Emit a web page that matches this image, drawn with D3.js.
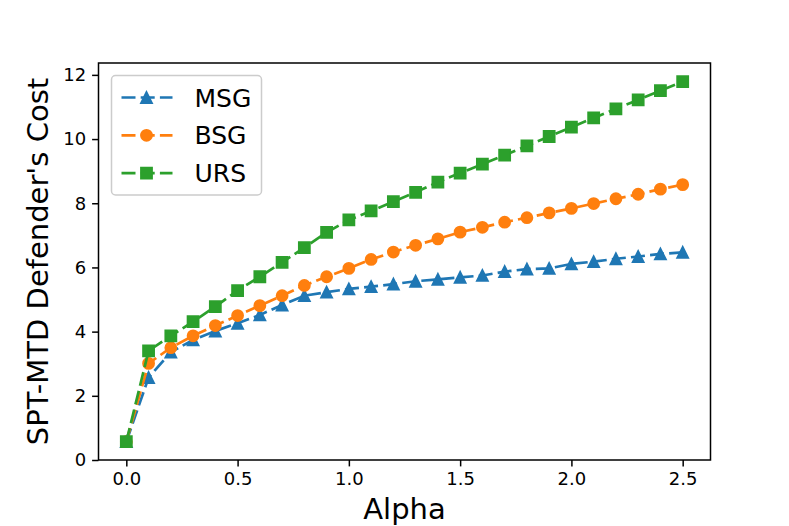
<!DOCTYPE html>
<html>
<head>
<meta charset="utf-8">
<script src="https://cdn.jsdelivr.net/npm/d3@7/dist/d3.min.js"></script>
<style>
	body { margin: 0; background: #fff; }
	svg { display: block; font-family: 'DejaVu Sans', sans-serif; }
</style>
</head>
<body>
<script>
// values
var alpha = [0.0, 0.1, 0.2, 0.3, 0.4, 0.5, 0.6, 0.7, 0.8, 0.9, 1.0, 1.1, 1.2,
	1.3, 1.4, 1.5, 1.6, 1.7, 1.8, 1.9, 2.0, 2.1, 2.2, 2.3, 2.4, 2.5];
var msg = [0.57, 2.57, 3.36, 3.74, 4.02, 4.26, 4.52, 4.83, 5.12, 5.23, 5.33, 5.40, 5.48,
	5.57, 5.63, 5.69, 5.75, 5.87, 5.95, 5.97, 6.11, 6.18, 6.27, 6.34, 6.42, 6.47];
var bsg = [0.57, 3.01, 3.50, 3.87, 4.19, 4.50, 4.81, 5.12, 5.44, 5.71, 5.97, 6.25, 6.48,
	6.69, 6.89, 7.10, 7.25, 7.41, 7.55, 7.70, 7.84, 7.99, 8.14, 8.28, 8.44, 8.58];
var urs = [0.57, 3.40, 3.87, 4.31, 4.78, 5.28, 5.71, 6.16, 6.62, 7.09, 7.48, 7.76, 8.05,
	8.34, 8.66, 8.94, 9.22, 9.50, 9.79, 10.08, 10.37, 10.66, 10.94, 11.22, 11.51, 11.79];
var xTicks = [0, 0.5, 1.0, 1.5, 2.0, 2.5];
var yTicks = [0, 2, 4, 6, 8, 10, 12];
var seriesNames = ['MSG', 'BSG', 'URS'];

var W = 789, H = 526;
var pLeft = 98.5, pRight = 710.5, pTop = 63, pBottom = 460;
var ms = 11; // marker size in px
var dash = '14,5.2';

var svg = d3.select('body').append('svg')
	.attr('width', W)
	.attr('height', H);

var x = d3.scaleLinear().domain([-0.125, 2.625]).range([pLeft, pRight]);
var y = d3.scaleLinear().domain([0, 12.37]).range([pBottom, pTop]);

// matplotlib-like marker shapes, m = marker size
function triangle(m) {
	var h = m / 2;
	return 'M0,' + (-h) + 'L' + (-h) + ',' + h + 'L' + h + ',' + h + 'Z';
}
function circle(m) {
	var p = d3.path();
	p.arc(0, 0, m / 2, 0, 2 * Math.PI);
	return p.toString();
}
function square(m) {
	var h = m / 2;
	return 'M' + (-h) + ',' + (-h) + 'H' + h + 'V' + h + 'H' + (-h) + 'Z';
}

var series = [
	{ name: seriesNames[0], values: msg, color: '#1f77b4', shape: triangle },
	{ name: seriesNames[1], values: bsg, color: '#ff7f0e', shape: circle },
	{ name: seriesNames[2], values: urs, color: '#2ca02c', shape: square }
];

var line = d3.line()
	.x(function(d) { return x(d[0]); })
	.y(function(d) { return y(d[1]); });

var plot = svg.append('g');

series.forEach(function(s) {
	var pts = alpha.map(function(a, i) { return [a, s.values[i]]; });
	plot.append('path')
		.attr('d', line(pts))
		.attr('fill', 'none')
		.attr('stroke', s.color)
		.attr('stroke-width', 2.7)
		.attr('stroke-dasharray', dash);
	plot.selectAll(null)
		.data(pts)
		.enter().append('path')
		.attr('transform', function(d) { return 'translate(' + x(d[0]) + ',' + y(d[1]) + ')'; })
		.attr('d', s.shape(ms))
		.attr('fill', s.color)
		.attr('stroke', s.color)
		.attr('stroke-width', 1.8)
		.attr('stroke-linejoin', 'miter');
});

// axes
var xAxis = svg.append('g')
	.attr('transform', 'translate(0,' + pBottom + ')')
	.call(d3.axisBottom(x).tickValues(xTicks).tickFormat(d3.format('.1f')).tickSizeOuter(0).tickSize(6.4).tickPadding(6));
var yAxis = svg.append('g')
	.attr('transform', 'translate(' + pLeft + ',0)')
	.call(d3.axisLeft(y).tickValues(yTicks).tickFormat(d3.format('d')).tickSizeOuter(0).tickSize(6.4).tickPadding(6));

[xAxis, yAxis].forEach(function(a) {
	a.select('.domain').remove();
	a.selectAll('.tick line').attr('stroke', '#000').attr('stroke-width', 1.5);
	a.selectAll('.tick text')
		.attr('fill', '#000')
		.style('font-size', '18px')
		.style('font-family', 'DejaVu Sans');
});

svg.append('rect')
	.attr('x', pLeft)
	.attr('y', pTop)
	.attr('width', pRight - pLeft)
	.attr('height', pBottom - pTop)
	.attr('fill', 'none')
	.attr('stroke', '#000')
	.attr('stroke-width', 1.5);

svg.append('text')
	.attr('x', (pLeft + pRight) / 2)
	.attr('y', 519)
	.attr('text-anchor', 'middle')
	.style('font-size', '29px')
	.text('Alpha');

svg.append('text')
	.attr('transform', 'translate(48,' + (pTop + pBottom) / 2 + ')rotate(-90)')
	.attr('text-anchor', 'middle')
	.style('font-size', '29px')
	.text("SPT-MTD Defender's Cost");

// legend
var lg = svg.append('g').attr('transform', 'translate(111.5,75.5)');
lg.append('rect')
	.attr('width', 150)
	.attr('height', 119.5)
	.attr('rx', 4)
	.attr('fill', '#fff')
	.attr('fill-opacity', 0.8)
	.attr('stroke', '#cccccc')
	.attr('stroke-width', 1.5);

series.forEach(function(s, i) {
	var row = lg.append('g').attr('transform', 'translate(0,' + (22 + i * 37.8) + ')');
	row.append('line')
		.attr('x1', 10).attr('x2', 61)
		.attr('stroke', s.color)
		.attr('stroke-width', 2.7)
		.attr('stroke-dasharray', dash);
	row.append('path')
		.attr('transform', 'translate(35,0)')
		.attr('d', s.shape(ms))
		.attr('fill', s.color)
		.attr('stroke', s.color)
		.attr('stroke-width', 1.8);
	row.append('text')
		.attr('x', 83)
		.attr('y', 9)
		.style('font-size', '25px')
		.text(s.name);
});
</script>
</body>
</html>
